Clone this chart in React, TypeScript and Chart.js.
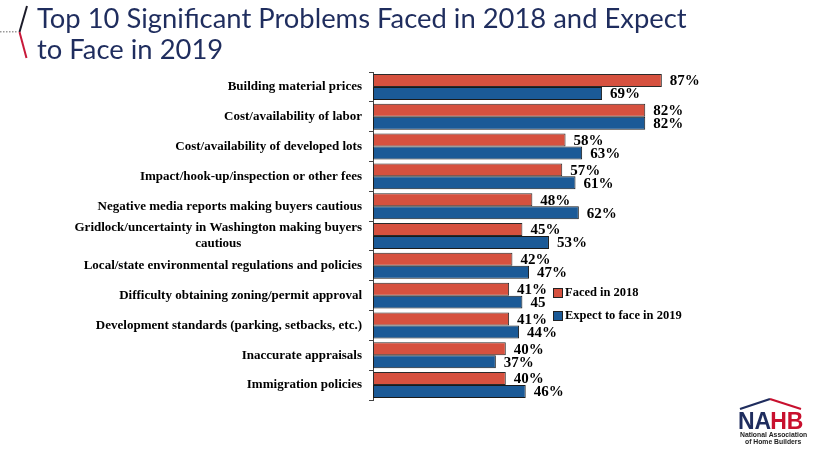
import React, { useEffect, useRef } from "react";
import { Chart, registerables } from "chart.js";

Chart.register(...registerables);

const categories: (string | string[])[] = [
  "Building material prices",
  "Cost/availability of labor",
  "Cost/availability of developed lots",
  "Impact/hook-up/inspection or other fees",
  "Negative media reports making buyers cautious",
  ["Gridlock/uncertainty in Washington making buyers", "cautious"],
  "Local/state environmental regulations and policies",
  "Difficulty obtaining zoning/permit approval",
  "Development standards (parking, setbacks, etc.)",
  "Inaccurate appraisals",
  "Immigration policies",
];
const faced2018 = [87, 82, 58, 57, 48, 45, 42, 41, 41, 40, 40];
const expect2019 = [69, 82, 63, 61, 62, 53, 47, 45, 44, 37, 46];
const labels2018 = ["87%", "82%", "58%", "57%", "48%", "45%", "42%", "41%", "41%", "40%", "40%"];
const labels2019 = ["69%", "82%", "63%", "61%", "62%", "53%", "47%", "45", "44%", "37%", "46%"];
const seriesNames = ["Faced in 2018", "Expect to face in 2019"];
const titleLines = ["Top 10 Significant Problems Faced in 2018 and Expect", "to Face in 2019"];

const RED = "#D6513F";
const BLUE = "#1B5A97";
const NAVY = "#1F2D5E";
const SERIF = '"Liberation Serif", "Times New Roman", serif';

export default function App() {
  const ref = useRef<HTMLCanvasElement | null>(null);
  useEffect(() => {
    if (!ref.current) return;
    const decor = {
      id: "decor",
      beforeDraw(chart: any) {
        const ctx = chart.ctx;
        ctx.save();
        ctx.fillStyle = "#fff";
        ctx.fillRect(0, 0, chart.width, chart.height);
        ctx.restore();
      },
      afterDraw(chart: any) {
        const ctx = chart.ctx;
        ctx.save();
        // dotted line
        ctx.fillStyle = "#9a9a9a";
        for (let x = 0; x < 18; x += 3) ctx.fillRect(x, 31, 1.5, 1.5);
        // slash decorations
        ctx.lineWidth = 2;
        ctx.strokeStyle = "#1c1c2a";
        ctx.beginPath();
        ctx.moveTo(27, 6);
        ctx.lineTo(19.5, 32);
        ctx.stroke();
        ctx.strokeStyle = "#c8193a";
        ctx.beginPath();
        ctx.moveTo(19.5, 32);
        ctx.lineTo(26.5, 58);
        ctx.stroke();
        // title
        ctx.fillStyle = NAVY;
        ctx.font = '27.4px Lato, "Noto Sans", sans-serif';
        ctx.textBaseline = "alphabetic";
        ctx.textAlign = "left";
        ctx.fillText(titleLines[0], 37, 28);
        ctx.fillText(titleLines[1], 37, 59);

        // y category labels
        const y = chart.scales.y;
        ctx.fillStyle = "#000";
        ctx.font = "bold 13px " + SERIF;
        ctx.textBaseline = "middle";
        ctx.textAlign = "center";
        categories.forEach((c, i) => {
          const lines = Array.isArray(c) ? c : [c];
          const w = Math.max(...lines.map((l) => ctx.measureText(l).width));
          const cx = 362 - w / 2;
          const cy = y.getPixelForValue(i);
          const lh = 16;
          const y0 = cy - ((lines.length - 1) * lh) / 2;
          lines.forEach((l, k) => ctx.fillText(l, cx, y0 + k * lh));
        });

        // legend
        const lx = 553;
        const lys = [293, 316];
        [RED, BLUE].forEach((col, i) => {
          ctx.fillStyle = col;
          ctx.fillRect(lx, lys[i] - 4.5, 9, 9);
          ctx.strokeStyle = "#222";
          ctx.lineWidth = 1;
          ctx.strokeRect(lx + 0.5, lys[i] - 4.5, 9, 9);
          ctx.fillStyle = "#000";
          ctx.textAlign = "left";
          ctx.font = "bold 12.5px " + SERIF;
          ctx.fillText(seriesNames[i], lx + 12, lys[i]);
        });

        // NAHB logo
        ctx.lineWidth = 2.2;
        ctx.strokeStyle = NAVY;
        ctx.beginPath();
        ctx.moveTo(740, 409);
        ctx.lineTo(770, 399);
        ctx.stroke();
        ctx.strokeStyle = "#C8102E";
        ctx.beginPath();
        ctx.moveTo(770, 399);
        ctx.lineTo(801, 409);
        ctx.stroke();
        ctx.textBaseline = "alphabetic";
        ctx.font = 'bold 23px "Liberation Sans", Arial, sans-serif';
        ctx.fillStyle = NAVY;
        ctx.fillText("NA", 738, 429);
        const wNA = ctx.measureText("NA").width;
        ctx.fillStyle = "#C8102E";
        ctx.fillText("HB", 738 + wNA - 1, 429);
        ctx.fillStyle = "#222";
        ctx.font = 'bold 6.8px "Liberation Sans", Arial, sans-serif';
        ctx.fillText("National Association", 740, 437);
        ctx.fillText("of Home Builders", 745, 444);
        ctx.restore();
      },
      afterDatasetsDraw(chart: any) {
        const ctx = chart.ctx;
        ctx.save();
        ctx.font = "bold 15px " + SERIF;
        ctx.fillStyle = "#000";
        ctx.textBaseline = "middle";
        ctx.textAlign = "left";
        [labels2018, labels2019].forEach((labs, di) => {
          const meta = chart.getDatasetMeta(di);
          meta.data.forEach((bar: any, i: number) => {
            ctx.fillText(labs[i], bar.x + 8, bar.y + 1);
          });
        });
        ctx.restore();
      },
    };

    const chart = new Chart(ref.current, {
      type: "bar",
      data: {
        labels: categories as any,
        datasets: [
          {
            label: seriesNames[0],
            data: faced2018,
            backgroundColor: RED,
            borderColor: "#2a2a2a",
            borderWidth: 1,
            borderSkipped: false,
          },
          {
            label: seriesNames[1],
            data: expect2019,
            backgroundColor: BLUE,
            borderColor: "#1a1a1a",
            borderWidth: 1,
            borderSkipped: false,
          },
        ],
      },
      options: {
        indexAxis: "y",
        animation: false,
        responsive: false,
        layout: { padding: { top: 72, bottom: 64, right: 125, left: 0 } },
        datasets: { bar: { categoryPercentage: 0.87, barPercentage: 1 } },
        plugins: { legend: { display: false }, tooltip: { enabled: false } },
        scales: {
          x: { display: false, min: 0, max: 100 },
          y: {
            afterFit(scale: any) {
              scale.width = 373;
            },
            ticks: { display: false },
            grid: {
              offset: true,
              drawOnChartArea: false,
              drawTicks: true,
              tickLength: 4,
              color: "#444",
            },
            border: { display: true, color: "#444", width: 1 },
          },
        },
      },
      plugins: [decor],
    });
    return () => chart.destroy();
  }, []);

  return (
    <div style={{ position: "fixed", left: 0, top: 0, width: 830, height: 464, background: "#fff" }}>
      <canvas ref={ref} width={830} height={464} />
    </div>
  );
}
